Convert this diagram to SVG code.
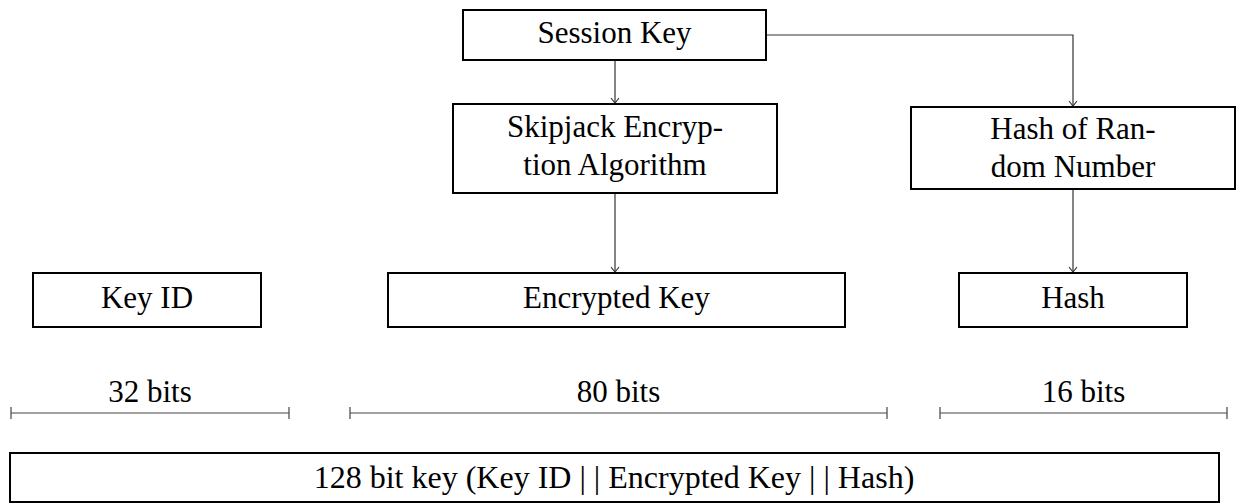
<svg xmlns="http://www.w3.org/2000/svg" width="1236" height="504" viewBox="0 0 1236 504">
<style>
.box{fill:#fff;stroke:#000;stroke-width:2}
.t{font-family:"Liberation Serif","DejaVu Serif",serif;font-size:31px;fill:#000;text-anchor:middle}
.c{fill:none;stroke:#333;stroke-width:1.2}
.dim{fill:none;stroke:#444;stroke-width:1.2}
</style>
<defs>
<marker id="arr" markerUnits="userSpaceOnUse" markerWidth="14" markerHeight="14" refX="7" refY="7" orient="auto">
<path d="M2,3 L7,7 L2,11" fill="none" stroke="#333" stroke-width="1.1"/>
</marker>
</defs>
<g id="connectors">
<path class="c" d="M615,60 V103" marker-end="url(#arr)"/>
<path class="c" d="M766,35 H1073 V106" marker-end="url(#arr)"/>
<path class="c" d="M615,193 V272" marker-end="url(#arr)"/>
<path class="c" d="M1073,189 V272" marker-end="url(#arr)"/>
</g>
<g id="session-key">
<rect class="box" x="463" y="10" width="303" height="50"/>
<text class="t" x="614.5" y="43">Session Key</text>
</g>
<g id="skipjack">
<rect class="box" x="453" y="104" width="324" height="89"/>
<text class="t" x="615" y="137">Skipjack Encryp-</text>
<text class="t" x="615" y="175">tion Algorithm</text>
</g>
<g id="hash-random">
<rect class="box" x="911" y="107" width="324" height="82"/>
<text class="t" x="1073" y="139">Hash of Ran-</text>
<text class="t" x="1073" y="177">dom Number</text>
</g>
<g id="key-id">
<rect class="box" x="33" y="273" width="228" height="54"/>
<text class="t" x="147" y="308">Key ID</text>
</g>
<g id="encrypted-key">
<rect class="box" x="388" y="273" width="457" height="54"/>
<text class="t" x="616.5" y="308">Encrypted Key</text>
</g>
<g id="hash">
<rect class="box" x="959" y="273" width="228" height="54"/>
<text class="t" x="1073" y="308">Hash</text>
</g>
<g id="dim-32">
<path class="dim" d="M11,413 H289 M11,407 V419 M289,407 V419"/>
<text class="t" x="150" y="402">32 bits</text>
</g>
<g id="dim-80">
<path class="dim" d="M350,413 H887 M350,407 V419 M887,407 V419"/>
<text class="t" x="618.5" y="402">80 bits</text>
</g>
<g id="dim-16">
<path class="dim" d="M940,413 H1227 M940,407 V419 M1227,407 V419"/>
<text class="t" x="1083.5" y="402">16 bits</text>
</g>
<g id="full-key">
<rect class="box" x="10" y="453" width="1209" height="49"/>
<text class="t" x="614" y="488" style="font-size:32px">128 bit key (Key ID | | Encrypted Key | | Hash)</text>
</g>
</svg>
